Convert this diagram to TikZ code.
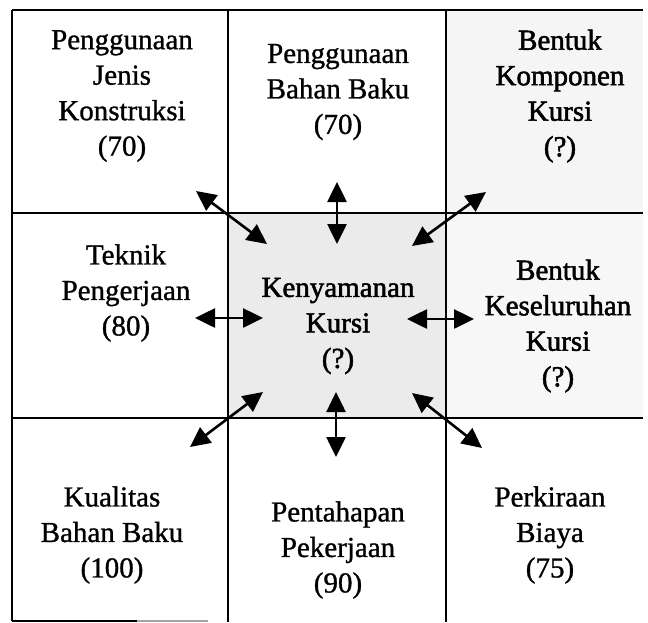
\documentclass[tikz,border=0pt]{standalone}
\usepackage{fontspec}
\setmainfont{Liberation Serif}
\newfontfamily\heavyfont{Liberation Serif}[FakeBold=1]
\newfontfamily\heavierfont{Liberation Serif}[FakeBold=1.8]
\usetikzlibrary{arrows.meta}
\begin{document}
\begin{tikzpicture}[x=1pt,y=-1pt,
  grid/.style={line width=1.7pt,black},
  lbl/.style={align=center,inner sep=0pt,font=\fontsize{29}{35.5}\selectfont\heavyfont},
  boldlbl/.style={lbl,font=\fontsize{29}{35.5}\selectfont\heavierfont},
  biarrow/.style={line width=2.6pt,{Triangle[length=20pt,width=19pt]}-{Triangle[length=20pt,width=19pt]}}]
\useasboundingbox (0,0) rectangle (648,622);
% shading
\fill[black!8] (228,213) rectangle (446,418);
\fill[black!4] (446,10) rectangle (643,213);
\fill[black!3] (446,213) rectangle (643,418);
% grid
\draw[grid] (12,10) -- (643,10);
\draw[grid] (12,213) -- (643,213);
\draw[grid] (12,418) -- (643,418);
\draw[grid] (12,10) -- (12,621);
\draw[grid] (228,10) -- (228,622);
\draw[grid] (446,10) -- (446,622);
\draw[grid] (12,621) -- (137,621);
\draw[line width=1.7pt,black!35] (137,621) -- (208,621);
% labels
\node[lbl] (c1) at (122,96) {Penggunaan\\Jenis\\Konstruksi\\(70)};
\node[lbl] (c2) at (338,92) {Penggunaan\\Bahan Baku\\(70)};
\node[boldlbl] (c3) at (560,96) {Bentuk\\Komponen\\Kursi\\(?)};
\node[lbl] (c4) at (126,293) {Teknik\\Pengerjaan\\(80)};
\node[boldlbl] (c5) at (338,326) {Kenyamanan\\Kursi\\(?)};
\node[boldlbl] (c6) at (558,326) {Bentuk\\Keseluruhan\\Kursi\\(?)};
\node[lbl] (c7) at (112,535) {Kualitas\\Bahan Baku\\(100)};
\node[lbl] (c8) at (338,550) {Pentahapan\\Pekerjaan\\(90)};
\node[lbl] (c9) at (550,535) {Perkiraan\\Biaya\\(75)};
% arrow ends
\coordinate (a1s) at (196,191); \coordinate (a1e) at (267,244);
\coordinate (a2s) at (337,182); \coordinate (a2e) at (337,244);
\coordinate (a3s) at (486,192); \coordinate (a3e) at (412,246);
\coordinate (a4s) at (195,318); \coordinate (a4e) at (263,318);
\coordinate (a5s) at (407,319); \coordinate (a5e) at (474,319);
\coordinate (a6s) at (263,392); \coordinate (a6e) at (190,447);
\coordinate (a7s) at (336,392); \coordinate (a7e) at (336,457);
\coordinate (a8s) at (412,393); \coordinate (a8e) at (482,448);
\foreach \i in {1,...,8} {\draw[biarrow] (a\i s) -- (a\i e);}
\end{tikzpicture}
\end{document}
